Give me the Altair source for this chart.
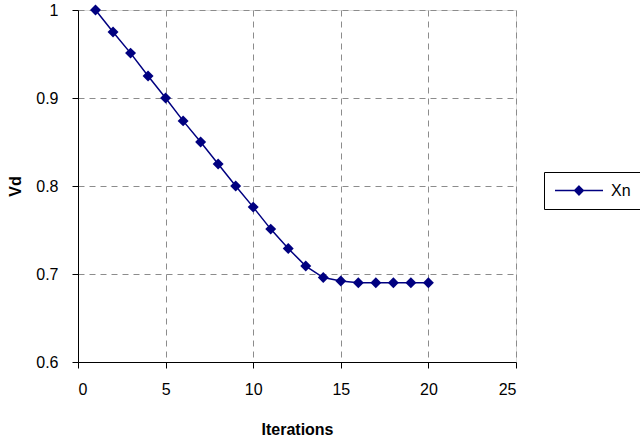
import altair as alt
import pandas as pd

iterations = list(range(1, 21))
xn = [1.0, 0.975, 0.951, 0.925, 0.9, 0.874, 0.85, 0.825, 0.8, 0.776,
      0.751, 0.729, 0.709, 0.696, 0.692, 0.69, 0.69, 0.69, 0.69, 0.69]
series = ["Xn"] * len(iterations)

x_ticks = [0, 5, 10, 15, 20, 25]
y_ticks = [0.6, 0.7, 0.8, 0.9, 1.0]

df = pd.DataFrame({"Iterations": iterations, "Vd": xn, "series": series})

NAVY = "#000080"
FONT = "Liberation Sans"
GRID = "#8c8c8c"

color = alt.Color(
    "series:N",
    scale=alt.Scale(domain=["Xn"], range=[NAVY]),
    legend=alt.Legend(
        orient="none", legendX=466, legendY=162, title=None,
        symbolType="M-1,0H1M0,-0.18L0.18,0L0,0.18L-0.18,0Z",
        symbolSize=2304, clipHeight=17,
        symbolStrokeWidth=1.5, symbolFillColor=NAVY, symbolStrokeColor=NAVY,
        strokeColor="black", fillColor="white", padding=10,
        labelFont=FONT, labelFontSize=16, labelColor="black", labelOffset=7,
        cornerRadius=0,
    ),
)

x = alt.X(
    "Iterations:Q",
    scale=alt.Scale(domain=[0, 25], nice=False, zero=False),
    axis=alt.Axis(
        values=x_ticks, title="Iterations", grid=True,
        gridDash=[6, 5], gridColor=GRID, gridWidth=1,
        domainColor="black", tickColor="black", tickSize=6,
        labelPadding=13, labelFont=FONT, labelFontSize=16, labelColor="black",
        titleFont=FONT, titleFontSize=16, titleFontWeight="bold", titleColor="black",
        titleY=67, titleBaseline="middle",
    ),
)
y = alt.Y(
    "Vd:Q",
    scale=alt.Scale(domain=[0.6, 1.0], nice=False, zero=False),
    axis=alt.Axis(
        values=y_ticks, title="Vd", format="~g", grid=True,
        gridDash=[6, 5], gridColor=GRID, gridWidth=1,
        domainColor="black", tickColor="black", tickSize=6,
        labelPadding=14, labelFont=FONT, labelFontSize=16, labelColor="black",
        titleFont=FONT, titleFontSize=16, titleFontWeight="bold", titleColor="black",
        titleX=-63, titleY=176, titleBaseline="middle", titleAlign="center", titleAngle=270,
    ),
)

base = alt.Chart(df)
line = base.mark_line(strokeWidth=1.5).encode(x=x, y=y, color=color)
pts = base.mark_point(shape="diamond", filled=True, size=120, opacity=1).encode(x=x, y=y, color=color)

chart = alt.layer(line, pts).properties(
    width=438, height=352,
    autosize=alt.AutoSizeParams(type="none"),
    padding={"left": 78, "top": 10, "right": 124, "bottom": 80},
).configure_view(stroke=GRID, strokeWidth=1).configure(background="white")

chart.save("out.html", embed_options={"renderer": "svg", "actions": False})
